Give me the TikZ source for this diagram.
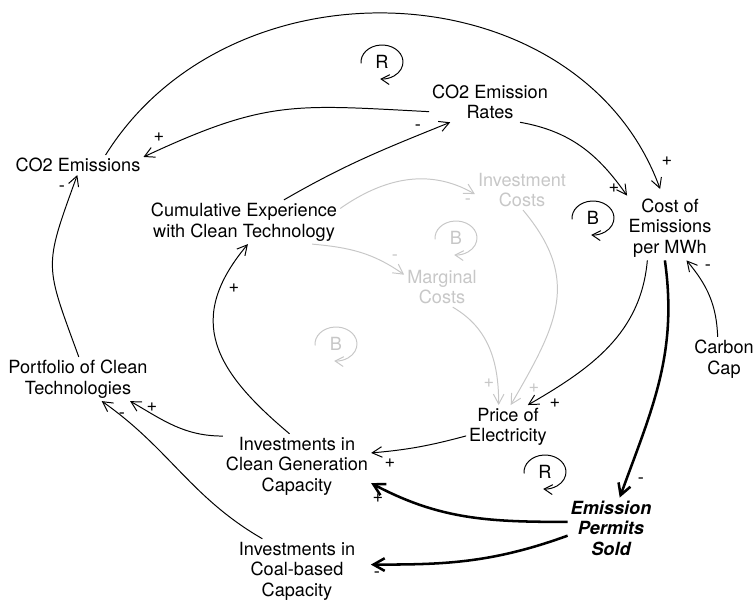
\documentclass[tikz,border=0pt]{standalone}
\usepackage{fontspec}
\setmainfont{TeX Gyre Heros}
\usetikzlibrary{arrows.meta}

\tikzset{
  var/.style={align=center, inner sep=2pt, font=\fontsize{12.9}{14.6}\selectfont},
  ghost/.style={var, text=black!22},
  sign/.style={inner sep=0pt, font=\fontsize{12.9}{14.6}\selectfont},
  link/.style={-{Straight Barb[length=7pt,width=7.5pt]}, line width=0.7pt},
  strong/.style={-{Straight Barb[length=8pt,width=9pt]}, line width=1.8pt},
  faint/.style={link, draw=black!22},
  loopmark/.style={-{Straight Barb[length=6pt,width=7pt]}, line width=0.7pt},
}

\begin{document}
\begin{tikzpicture}[x=0.025cm, y=0.025cm]

\useasboundingbox (0,0) rectangle (754,-601);

%==== variables ====
\node[var] (co2) at (78,-165) {CO2 Emissions};
\node[var] (rates) at (490,-102) {CO2 Emission\\Rates};
\node[var] (cost) at (670,-228) {Cost of\\Emissions\\per MWh};
\node[var] (cumexp) at (244,-222) {Cumulative Experience\\with Clean Technology};
\node[ghost] (invcost) at (522,-190) {Investment\\Costs};
\node[ghost] (marg) at (442,-287) {Marginal\\Costs};
\node[var] (price) at (508,-427) {Price of\\Electricity};
\node[var] (portfolio) at (78,-379) {Portfolio of Clean\\Technologies};
\node[var] (invclean) at (297,-466) {Investments in\\Clean Generation\\Capacity};
\node[var] (invcoal) at (297,-571) {Investments in\\Coal-based\\Capacity};
\node[var,font=\fontsize{12.9}{14.6}\selectfont\bfseries\itshape] (permits) at (611,-528) {Emission\\Permits\\Sold};
\node[var] (carbon) at (724,-359) {Carbon\\Cap};

%==== upper links ====
\draw[link,shorten >=5pt] (co2.20) to[out=58,in=110,looseness=1.1] (cost.103);
\draw[link] (rates.189) to[out=177,in=25,looseness=1.2] (co2.7);
\draw[link] (cumexp.29) to[out=30,in=202] (rates.207);
\draw[link] (rates.-34) to[out=-10,in=125] (cost.143);

%==== right side ====
\draw[link] (cost.235) to[out=-95,in=30] (price.48);
\draw[strong] (cost.261) to[out=-82,in=70] (permits.74);
\draw[link] (carbon.106) to[out=92,in=-50] (cost.-63);

%==== investments ====
\draw[link] (price.192) to[out=195,in=5] (invclean.10);
\draw[strong] (permits.172) to[out=180,in=-28] (invclean.-13);
\draw[strong,shorten >=9pt] (permits.190) to[out=200,in=0] (invcoal.6);
\draw[link] (invclean.158) to[out=180,in=-30] (portfolio.-23);
\draw[link] (invcoal.137) to[out=150,in=-35] (portfolio.-43);
\draw[link] (portfolio.88) to[out=110,in=-110,looseness=1.4] (co2.266);
\draw[link] (invclean.103) to[out=140,in=-130,looseness=1.3] (cumexp.-80);

%==== cost links (grey) ====
\draw[faint] (cumexp.8) to[out=35,in=150] (invcost.185);
\draw[faint] (cumexp.-18) to[out=-5,in=145] (marg.162);
\draw[faint] (marg.-62) to[out=-30,in=90] (price.113);
\draw[faint] (invcost.-87) to[out=-50,in=60,looseness=1.2] (price.83);

%==== polarities ====
\node[sign] (s1) at (667,-161) {+};
\node[sign] (s2) at (159,-137) {+};
\node[sign] (s3) at (418,-128) {-};
\node[sign] (s4) at (614,-188) {+};
\node[sign] (s5) at (555,-403) {+};
\node[sign] (s6) at (641,-481) {-};
\node[sign] (s7) at (708,-268) {-};
\node[sign] (s8) at (390,-463) {+};
\node[sign] (s9) at (378,-498) {+};
\node[sign] (s10) at (377,-575) {-};
\node[sign] (s11) at (152,-407) {+};
\node[sign] (s12) at (122,-416) {-};
\node[sign] (s13) at (62,-189) {-};
\node[sign] (s14) at (234,-288) {+};
\node[sign,text=black!22] (g1) at (468,-202) {-};
\node[sign,text=black!22] (g2) at (395,-258) {-};
\node[sign,text=black!22] (g3) at (489,-383) {+};
\node[sign,text=black!22] (g4) at (534,-388) {+};

%==== loop markers ====
\node[var] (lpR1) at (382,-62) {R};
\node[var] (lpB1) at (593,-218) {B};
\node[ghost] (lpB2) at (456,-238) {B};
\node[ghost] (lpB3) at (336,-344) {B};
\node[var] (lpR2) at (545,-472) {R};
\foreach \lp/\col in {lpR1/black, lpB1/black, lpB2/black!22, lpB3/black!22, lpR2/black}
  \draw[loopmark,draw=\col] (\lp) ++(185:21 and 17)
    arc[start angle=185, end angle=-95, x radius=21, y radius=17];

\end{tikzpicture}
\end{document}
